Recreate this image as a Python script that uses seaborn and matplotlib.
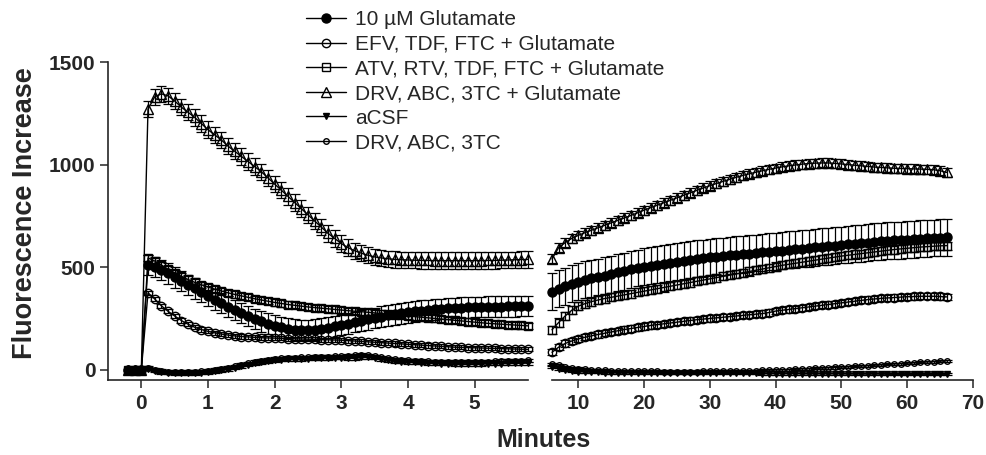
import numpy as np
import pandas as pd
import seaborn as sns
import matplotlib
matplotlib.use("Agg")
import matplotlib.pyplot as plt

sns.set_style("ticks")
plt.rcParams['font.family'] = ['Liberation Sans', 'DejaVu Sans']

# ---------------- data ----------------
labels = ["10 \u00b5M Glutamate", "EFV, TDF, FTC + Glutamate",
          "ATV, RTV, TDF, FTC + Glutamate", "DRV, ABC, 3TC + Glutamate",
          "aCSF", "DRV, ABC, 3TC"]

t_left = [-0.2, -0.1, 0.0, 0.1, 0.2, 0.3, 0.4, 0.5, 0.6, 0.7, 0.8, 0.9, 1.0,
          1.1, 1.2, 1.3, 1.4, 1.5, 1.6, 1.7, 1.8, 1.9, 2.0, 2.1, 2.2, 2.3, 2.4,
          2.5, 2.6, 2.7, 2.8, 2.9, 3.0, 3.1, 3.2, 3.3, 3.4, 3.5, 3.6, 3.7, 3.8,
          3.9, 4.0, 4.1, 4.2, 4.3, 4.4, 4.5, 4.6, 4.7, 4.8, 4.9, 5.0, 5.1, 5.2,
          5.3, 5.4, 5.5, 5.6, 5.7, 5.8]

glut_left = [0, 0, 0, 510, 500, 485, 470, 450, 432, 414, 396, 378, 360, 342,
             325, 308, 292, 276, 262, 248, 236, 225, 215, 207, 200, 196, 194,
             194, 196, 200, 205, 211, 218, 225, 232, 239, 246, 253, 259, 265,
             270, 275, 280, 284, 288, 291, 294, 297, 299, 301, 303, 304, 305,
             306, 307, 308, 308, 309, 309, 310, 310]
efv_left = [0, 0, 0, 375, 345, 312, 285, 262, 240, 222, 207, 196, 187, 180,
            174, 169, 165, 162, 160, 158, 156, 155, 154, 153, 152, 151, 150,
            149, 148, 147, 146, 145, 144, 142, 140, 138, 136, 134, 132, 130,
            128, 126, 124, 122, 120, 118, 116, 114, 112, 110, 109, 108, 107,
            106, 105, 104, 103, 102, 101, 100, 99]
atv_left = [0, 0, 0, 545, 530, 510, 490, 472, 455, 440, 426, 414, 403, 393,
            384, 375, 367, 360, 353, 346, 340, 334, 328, 323, 318, 314, 310,
            306, 303, 300, 297, 294, 291, 288, 285, 283, 280, 277, 274, 271,
            268, 265, 262, 259, 256, 253, 250, 247, 244, 241, 238, 235, 232,
            229, 226, 224, 222, 220, 218, 216, 214]
drvg_left = [0, 0, 0, 1270, 1330, 1345, 1335, 1310, 1280, 1255, 1230, 1200,
             1170, 1145, 1120, 1090, 1065, 1040, 1015, 990, 965, 935, 905, 875,
             845, 815, 785, 755, 725, 695, 665, 640, 615, 595, 580, 568, 558,
             550, 545, 541, 538, 536, 535, 534, 533, 533, 532, 532, 532, 532,
             532, 532, 532, 532, 533, 533, 534, 535, 536, 537, 538]
acsf_left = [0, 0, 0, 5, -5, -12, -15, -18, -18, -17, -16, -14, -12, -8, -3,
             3, 10, 17, 24, 31, 37, 42, 46, 49, 51, 52, 53, 54, 55, 56, 57, 58,
             58, 57, 55, 60, 62, 58, 52, 47, 43, 40, 38, 36, 34, 32, 31, 30,
             29, 28, 28, 28, 28, 28, 29, 30, 30, 31, 31, 32, 32]
drv_left = [0, 0, 0, 8, 0, -6, -10, -12, -12, -11, -10, -8, -5, -1, 4, 10, 17,
            24, 31, 38, 44, 49, 53, 56, 58, 59, 60, 61, 62, 63, 64, 65, 66, 68,
            70, 72, 70, 66, 60, 55, 51, 48, 46, 44, 42, 41, 40, 39, 38, 38, 38,
            38, 38, 39, 40, 41, 42, 43, 44, 45, 46]

t_right = [6, 7, 8, 9, 10, 11, 12, 13, 14, 15, 16, 17, 18, 19, 20, 21, 22, 23,
           24, 25, 26, 27, 28, 29, 30, 31, 32, 33, 34, 35, 36, 37, 38, 39, 40,
           41, 42, 43, 44, 45, 46, 47, 48, 49, 50, 51, 52, 53, 54, 55, 56, 57,
           58, 59, 60, 61, 62, 63, 64, 65, 66]

glut_right = [380, 395, 408, 420, 430, 438, 445, 452, 459, 466, 474, 481, 489,
              496, 502, 507, 512, 517, 522, 527, 532, 536, 540, 544, 548, 551,
              554, 557, 560, 563, 566, 569, 572, 575, 578, 581, 584, 587, 590,
              593, 596, 599, 602, 605, 608, 611, 614, 617, 620, 623, 626, 628,
              630, 632, 634, 636, 638, 640, 642, 644, 645]
efv_right = [85, 110, 128, 140, 150, 158, 165, 172, 178, 184, 190, 196, 201,
             206, 211, 216, 220, 224, 228, 232, 236, 240, 244, 247, 250, 253,
             256, 259, 262, 265, 268, 271, 274, 279, 286, 290, 294, 298, 302,
             306, 310, 314, 318, 322, 326, 330, 334, 338, 342, 345, 348, 350,
             352, 354, 356, 357, 358, 358, 358, 357, 355]
atv_right = [195, 230, 262, 290, 310, 322, 332, 340, 347, 353, 359, 365, 371,
             377, 383, 389, 395, 401, 407, 413, 419, 425, 431, 437, 443, 449,
             455, 461, 467, 473, 479, 485, 491, 497, 503, 509, 514, 519, 524,
             529, 534, 539, 544, 549, 554, 558, 562, 566, 570, 574, 578, 582,
             586, 589, 592, 595, 598, 600, 602, 604, 605]
drvg_right = [540, 595, 620, 640, 655, 668, 680, 692, 704, 716, 728, 740, 752,
              765, 778, 790, 802, 814, 826, 838, 850, 862, 874, 886, 897, 908,
              918, 928, 938, 947, 955, 963, 970, 977, 983, 989, 994, 998, 1002,
              1005, 1007, 1008, 1008, 1006, 1003, 1000, 997, 994, 991, 988,
              986, 984, 982, 981, 980, 979, 978, 977, 975, 970, 962]
acsf_right = [15, 5, -2, -6, -9, -11, -12, -13, -14, -14, -15, -15, -15, -16,
              -16, -16, -16, -16, -17, -17, -17, -17, -17, -17, -18, -18, -18,
              -18, -18, -18, -18, -18, -19, -19, -19, -19, -19, -19, -20, -20,
              -20, -20, -20, -20, -20, -21, -21, -21, -21, -21, -21, -22, -22,
              -22, -22, -22, -22, -22, -22, -22, -22]
drv_right = [30, 22, 15, 10, 6, 3, 1, -1, -3, -4, -5, -6, -7, -7, -8, -8, -8,
             -9, -9, -9, -9, -9, -9, -8, -8, -8, -7, -7, -6, -6, -5, -4, -3,
             -2, -1, 0, 1, 2, 4, 5, 7, 8, 10, 11, 13, 14, 16, 18, 20, 22, 24,
             26, 28, 30, 32, 34, 36, 38, 40, 42, 44]

# SEM per series (left panel, right panel)
sem_left = [50, 10, 15, 40, 8, 8]
sem_right = [90, 15, 20, 22, 5, 5]

left_series = [glut_left, efv_left, atv_left, drvg_left, acsf_left, drv_left]
right_series = [glut_right, efv_right, atv_right, drvg_right, acsf_right, drv_right]

# ---------------- styles ----------------
styles = [
    dict(marker='o', mfc='black', ms=6.5),
    dict(marker='o', mfc='none', ms=6.0),
    dict(marker='s', mfc='none', ms=5.5),
    dict(marker='^', mfc='none', ms=7.0),
    dict(marker='v', mfc='black', ms=4.0),
    dict(marker='o', mfc='none', ms=4.0),
]

W, H = 987, 455
fig = plt.figure(figsize=(W / 100, H / 100), dpi=100)
axL = fig.add_axes([108 / W, 75 / H, 420 / W, 318 / H])
axR = fig.add_axes([552 / W, 75 / H, 421 / W, 318 / H])

def draw(ax, t, series, sems, with_labels):
    for i, (y, e, st) in enumerate(zip(series, sems, styles)):
        df = pd.DataFrame({"t": t, "v": y})
        eb = df[df["t"] > 0]
        ax.errorbar(eb["t"], eb["v"], yerr=e, fmt='none', ecolor='black',
                    elinewidth=0.9, capsize=3.5, capthick=0.9, clip_on=False,
                    zorder=2)
        sns.lineplot(data=df, x="t", y="v", ax=ax, estimator=None, sort=False,
                     color='black', linewidth=1.0, marker=st['marker'],
                     markersize=st['ms'], markerfacecolor=st['mfc'],
                     markeredgecolor='black', markeredgewidth=1.0,
                     label=labels[i] if with_labels else None,
                     clip_on=False, zorder=3)

draw(axL, t_left, left_series, sem_left, True)
draw(axR, t_right, right_series, sem_right, False)

for ax in (axL, axR):
    ax.set_ylim(-50, 1500)
    ax.set_xlabel("")
    ax.set_ylabel("")
    for s in ("top", "right"):
        ax.spines[s].set_visible(False)
    ax.spines["bottom"].set_linewidth(1.2)
    ax.spines["left"].set_linewidth(1.2)
    ax.tick_params(axis='x', direction='out', length=6, width=1.1, pad=4)
    ax.tick_params(axis='y', direction='out', length=6, width=1.1, pad=3)
    ax.set_facecolor('white')
    if ax.get_legend() is not None:
        ax.get_legend().remove()

axL.set_xlim(-0.5, 5.8)
axL.set_xticks([0, 1, 2, 3, 4, 5])
axL.set_yticks([0, 500, 1000, 1500])
axL.set_yticklabels(["0", "500", "1000", "1500"], fontsize=15, fontweight='bold')

axR.set_xlim(6.0, 70)
axR.set_xticks([10, 20, 30, 40, 50, 60, 70])
axR.spines["left"].set_visible(False)
axR.tick_params(axis='y', left=False, labelleft=False)

for ax in (axL, axR):
    for lab in ax.get_xticklabels():
        lab.set_fontweight('bold')
        lab.set_fontsize(15)

fig.text(25 / W, 1 - 213 / H, "Fluorescence Increase", rotation=90,
         ha='center', va='center', fontsize=19.5, fontweight='bold')
fig.text(543 / W, 1 - 440 / H, "Minutes", ha='center', va='center',
         fontsize=18, fontweight='bold')

handles, labs = axL.get_legend_handles_labels()
fig.legend(handles, labs, loc='upper left', bbox_to_anchor=(300 / W, 1 - 4 / H),
           frameon=False, fontsize=15, labelspacing=0.27, handlelength=1.9,
           handletextpad=0.45, borderaxespad=0.0, borderpad=0.3)

fig.savefig("out.png", dpi=100, facecolor='white')
